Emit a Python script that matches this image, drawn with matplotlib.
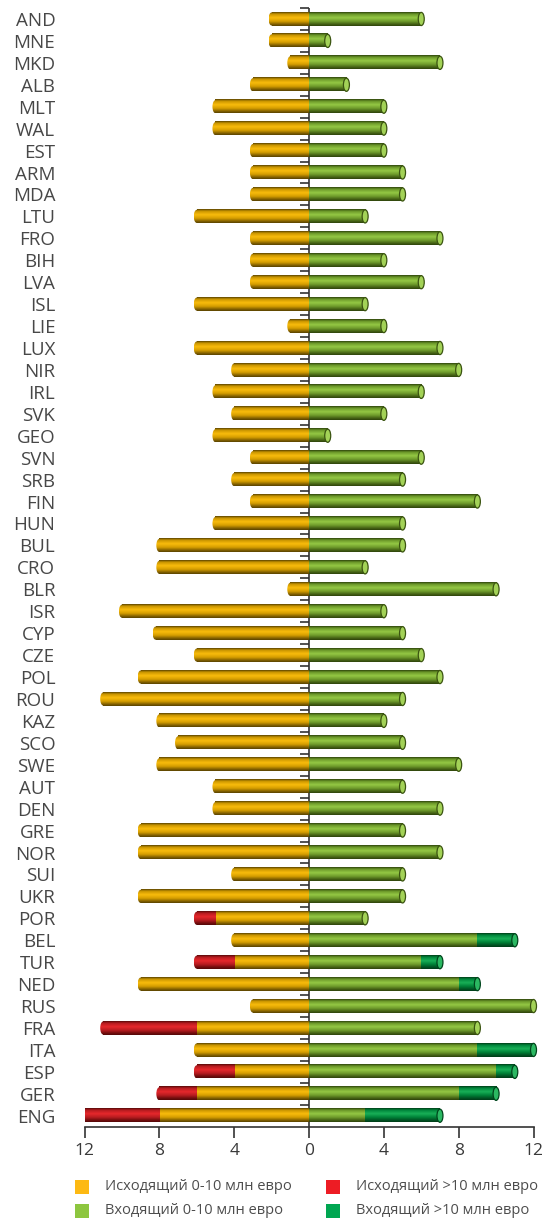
import numpy as np
import matplotlib.pyplot as plt
from matplotlib.colors import LinearSegmentedColormap
from matplotlib.patches import Ellipse, Rectangle
from matplotlib import markers

plt.rcParams['font.family'] = ['Open Sans', 'DejaVu Sans']

countries = ['AND', 'MNE', 'MKD', 'ALB', 'MLT', 'WAL', 'EST', 'ARM', 'MDA', 'LTU',
             'FRO', 'BIH', 'LVA', 'ISL', 'LIE', 'LUX', 'NIR', 'IRL', 'SVK', 'GEO',
             'SVN', 'SRB', 'FIN', 'HUN', 'BUL', 'CRO', 'BLR', 'ISR', 'CYP', 'CZE',
             'POL', 'ROU', 'KAZ', 'SCO', 'SWE', 'AUT', 'DEN', 'GRE', 'NOR', 'SUI',
             'UKR', 'POR', 'BEL', 'TUR', 'NED', 'RUS', 'FRA', 'ITA', 'ESP', 'GER',
             'ENG']

# outgoing: 0-10 mln and >10 mln
out_small = [2, 2, 1, 3, 5, 5, 3, 3, 3, 6,
             3, 3, 3, 6, 1, 6, 4, 5, 4, 5,
             3, 4, 3, 5, 8, 8, 1, 10, 8.2, 6,
             9, 11, 8, 7, 8, 5, 5, 9, 9, 4,
             9, 5, 4, 4, 9, 3, 6, 6, 4, 6,
             8]
out_big = [0] * 41 + [1, 0, 2, 0, 0, 5, 0, 2, 2, 4]

# incoming: 0-10 mln and >10 mln
in_small = [6, 1, 7, 2, 4, 4, 4, 5, 5, 3,
            7, 4, 6, 3, 4, 7, 8, 6, 4, 1,
            6, 5, 9, 5, 5, 3, 10, 4, 5, 6,
            7, 5, 4, 5, 8, 5, 7, 5, 7, 5,
            5, 3, 9, 6, 8, 12, 9, 9, 10, 8,
            3]
in_big = [0] * 42 + [2, 1, 1, 0, 0, 3, 1, 2, 4]

xticks = [-12, -8, -4, 0, 4, 8, 12]
legend_labels = ['Исходящий 0-10 млн евро', 'Входящий 0-10 млн евро',
                 'Исходящий >10 млн евро', 'Входящий >10 млн евро']
legend_colors = ['#fdb913', '#8dc63f', '#ed1c24', '#00a651']

H = 0.6     # tube thickness (category units)
CAP = 0.32  # end cap width (x units)


def tube_cmap(name, edge, upper, hi, lower, bottom):
    return LinearSegmentedColormap.from_list(
        name, [(0, edge), (0.14, upper), (0.4, hi), (0.66, lower), (0.9, bottom), (1, edge)])


c_orange = tube_cmap('o', '#5a4300', '#c99500', '#f9bc0c', '#d69e00', '#7a5a00')
c_red = tube_cmap('r', '#550909', '#b41b1f', '#e6282c', '#b71c20', '#6a0c0c')
c_lgreen = tube_cmap('lg', '#2e440c', '#6a9628', '#94c844', '#6f9c2c', '#3f5a12')
c_dgreen = tube_cmap('dg', '#003d18', '#00853b', '#19b057', '#008238', '#004d20')
cap_style = {'lg': ('#a3d257', '#3b5411'), 'dg': ('#2bb862', '#00451c')}

grad = np.linspace(0, 1, 64).reshape(-1, 1)


def tube(ax, y, x0, x1, cmap, round_left=False):
    ax.imshow(grad, cmap=cmap, extent=(x0, x1, y + H / 2, y - H / 2),
              aspect='auto', interpolation='bilinear', zorder=2, clip_on=False)
    if round_left:
        clip = Ellipse((x0, y), CAP, H, transform=ax.transData)
        im = ax.imshow(grad, cmap=cmap, extent=(x0 - CAP / 2, x0, y + H / 2, y - H / 2),
                       aspect='auto', interpolation='bilinear', zorder=2)
        im.set_clip_box(None)
        im.set_clip_path(clip)


fig = plt.figure(figsize=(5.44, 12.21), dpi=100)
W, Hpx = 544, 1221
ax = fig.add_axes([84.5 / W, 1 - 1126.7 / Hpx, 449 / W, 1118.7 / Hpx])

n = len(countries)
for i in range(n):
    os_, ob = out_small[i], out_big[i]
    is_, ib = in_small[i], in_big[i]
    # outgoing side (left)
    tube(ax, i, -os_, 0, c_orange, round_left=(ob == 0))
    if ob:
        tube(ax, i, -(os_ + ob), -os_, c_red, round_left=True)
    # incoming side (right)
    tube(ax, i, 0, is_, c_lgreen)
    key = 'lg'
    if ib:
        tube(ax, i, is_, is_ + ib, c_dgreen)
        key = 'dg'
    fc, ec = cap_style[key]
    ax.add_patch(Ellipse((is_ + ib, i), CAP, H, facecolor=fc, edgecolor=ec,
                         lw=0.9, zorder=3, clip_on=False))

# zero line with category ticks
ax.axvline(0, color='#333333', lw=1.2, zorder=1)
ax.plot(np.zeros(n), np.arange(n) - 0.5, ls='none', marker=markers.TICKLEFT,
        ms=6.5, mew=1.2, color='#333333', zorder=1, clip_on=False)

ax.set_xlim(-12, 12)
ax.set_ylim(n - 0.5, -0.5)
ax.set_yticks(range(n), countries)
ax.tick_params(axis='y', length=0, pad=21, labelsize=13.5, labelcolor='#474747')
ax.set_xticks(xticks, [str(abs(v)) for v in xticks])
ax.tick_params(axis='x', length=8, width=1.2, color='#333333', labelsize=12.5,
               labelcolor='#3a3a3a', pad=4)
for s in ['left', 'right', 'top']:
    ax.spines[s].set_visible(False)
ax.spines['bottom'].set_color('#333333')
ax.spines['bottom'].set_linewidth(1.2)

# legend, two columns
for k, (lab, col) in enumerate(zip(legend_labels, legend_colors)):
    cx = [75, 326][k // 2]
    cy = [1187, 1211][k % 2]
    fig.add_artist(Rectangle((cx / W, 1 - (cy + 7) / Hpx), 14 / W, 14 / Hpx,
                             facecolor=col, edgecolor='none', transform=fig.transFigure))
    fig.text((cx + 30) / W, 1 - cy / Hpx, lab, fontsize=10.5, color='#4d4d4d',
             va='center', ha='left')

fig.savefig('out.png', dpi=100)
